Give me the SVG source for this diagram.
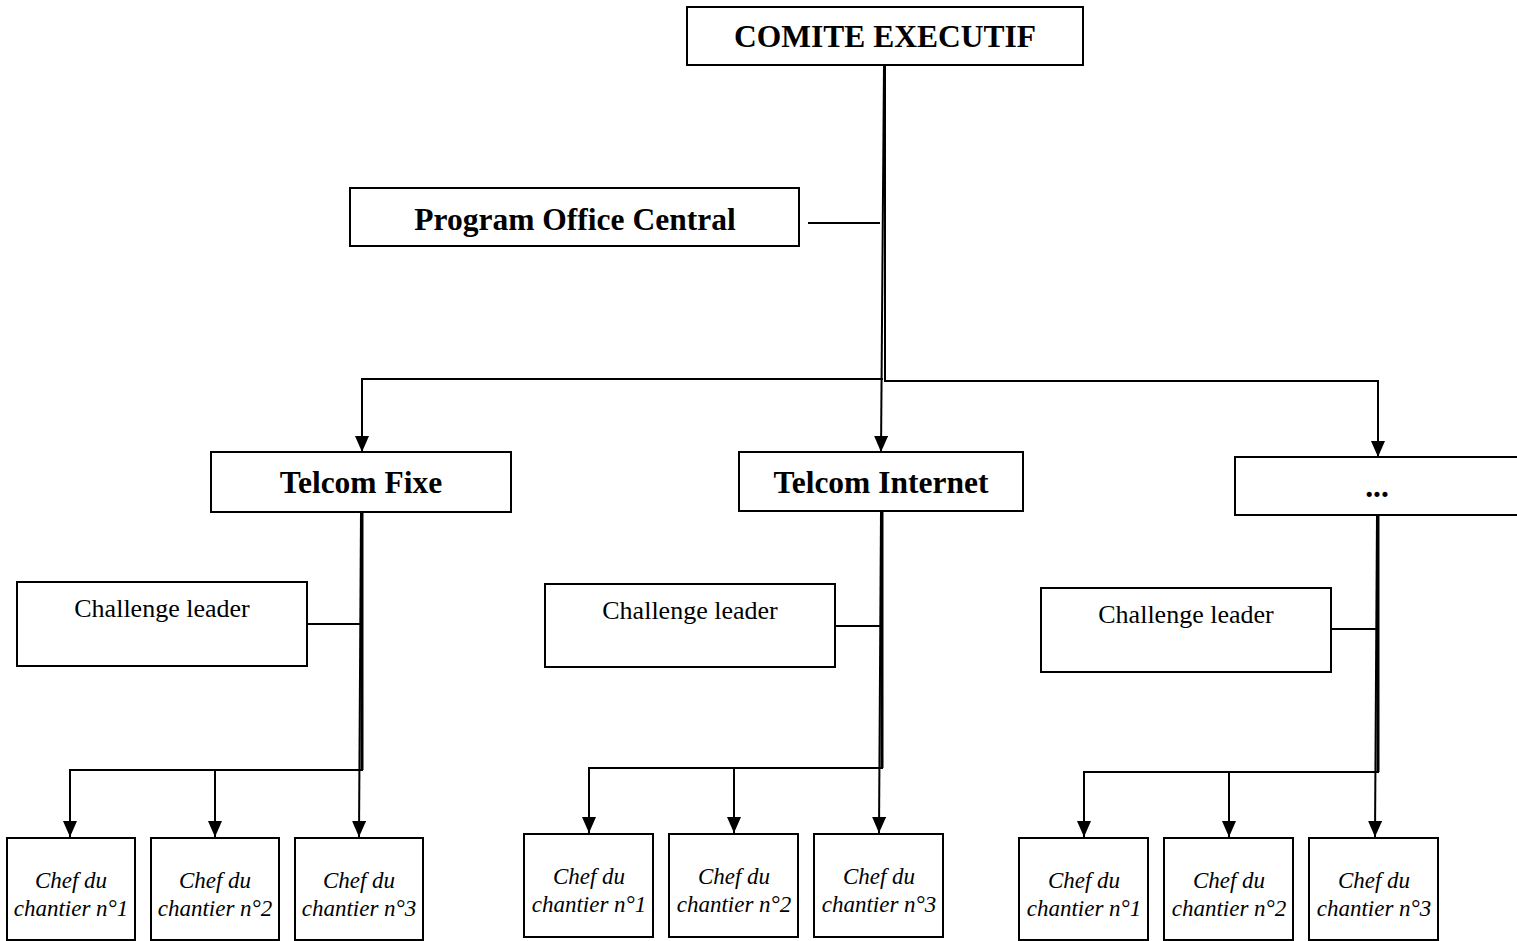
<svg xmlns="http://www.w3.org/2000/svg" width="1517" height="941" viewBox="0 0 1517 941">
<defs>
<style>
.box{fill:#fff;stroke:#000;stroke-width:2}
.ln{fill:none;stroke:#000;stroke-width:2}
.thk{fill:none;stroke:#000;stroke-width:3}
.hd{font-family:"Liberation Serif","Times New Roman",serif;font-weight:bold;font-size:31.5px;text-anchor:middle;fill:#000}
.cl{font-family:"Liberation Serif","Times New Roman",serif;font-size:26px;text-anchor:middle;fill:#000}
.ch{font-family:"Liberation Serif","Times New Roman",serif;font-style:italic;font-size:23px;text-anchor:middle;fill:#000}
</style>
<marker id="arr" viewBox="0 0 16 14" refX="16" refY="7" markerWidth="16" markerHeight="14" markerUnits="userSpaceOnUse" orient="auto">
<path d="M0,0 L16,7 L0,14 Z" fill="#000"/>
</marker>
</defs>
<rect width="1517" height="941" fill="#fff"/>

<g id="connectors">
<!-- top level -->
<path class="ln" d="M885,65 L885,381 L1378,381 L1378,457" marker-end="url(#arr)"/>
<path class="ln" d="M884,65 L881,452" marker-end="url(#arr)"/>
<path class="ln" d="M883,379 L362,379 L362,452" marker-end="url(#arr)"/>
<path class="ln" d="M808,223 L880,223"/>
<!-- group 1 -->
<path class="thk" d="M362,512 L362,770"/>
<path class="ln" d="M363,770 L70,770 L70,837" marker-end="url(#arr)"/>
<path class="ln" d="M215,770 L215,837" marker-end="url(#arr)"/>
<path class="ln" d="M361,512 L359,837" marker-end="url(#arr)"/>
<path class="ln" d="M307,624 L361,624"/>
<!-- group 2 -->
<path class="thk" d="M882,511 L882,768"/>
<path class="ln" d="M883,768 L589,768 L589,833" marker-end="url(#arr)"/>
<path class="ln" d="M734,768 L734,833" marker-end="url(#arr)"/>
<path class="ln" d="M881,511 L879,833" marker-end="url(#arr)"/>
<path class="ln" d="M835,626 L881,626"/>
<!-- group 3 -->
<path class="thk" d="M1378,515 L1378,772"/>
<path class="ln" d="M1379,772 L1084,772 L1084,837" marker-end="url(#arr)"/>
<path class="ln" d="M1229,772 L1229,837" marker-end="url(#arr)"/>
<path class="ln" d="M1377,515 L1375,837" marker-end="url(#arr)"/>
<path class="ln" d="M1331,629 L1377,629"/>
</g>

<g id="comite"><rect class="box" x="687" y="7" width="396" height="58"/><text class="hd" x="885" y="47">COMITE EXECUTIF</text></g>
<g id="program-office"><rect class="box" x="350" y="188" width="449" height="58"/><text class="hd" x="575" y="230">Program Office Central</text></g>

<g id="telcom-fixe"><rect class="box" x="211" y="452" width="300" height="60"/><text class="hd" x="361" y="493">Telcom Fixe</text></g>
<g id="telcom-internet"><rect class="box" x="739" y="452" width="284" height="59"/><text class="hd" x="881" y="493">Telcom Internet</text></g>
<g id="telcom-other"><rect class="box" x="1235" y="457" width="290" height="58"/><text class="hd" x="1377" y="497">...</text></g>

<g id="challenge-1"><rect class="box" x="17" y="582" width="290" height="84"/><text class="cl" x="162" y="617">Challenge leader</text></g>
<g id="challenge-2"><rect class="box" x="545" y="584" width="290" height="83"/><text class="cl" x="690" y="619">Challenge leader</text></g>
<g id="challenge-3"><rect class="box" x="1041" y="588" width="290" height="84"/><text class="cl" x="1186" y="623">Challenge leader</text></g>

<g id="chef-1-1"><rect class="box" x="7" y="838" width="128" height="102"/><text class="ch" x="71" y="888">Chef du</text><text class="ch" x="71" y="916">chantier n°1</text></g>
<g id="chef-1-2"><rect class="box" x="151" y="838" width="128" height="102"/><text class="ch" x="215" y="888">Chef du</text><text class="ch" x="215" y="916">chantier n°2</text></g>
<g id="chef-1-3"><rect class="box" x="295" y="838" width="128" height="102"/><text class="ch" x="359" y="888">Chef du</text><text class="ch" x="359" y="916">chantier n°3</text></g>

<g id="chef-2-1"><rect class="box" x="524" y="834" width="129" height="103"/><text class="ch" x="589" y="884">Chef du</text><text class="ch" x="589" y="912">chantier n°1</text></g>
<g id="chef-2-2"><rect class="box" x="669" y="834" width="129" height="103"/><text class="ch" x="734" y="884">Chef du</text><text class="ch" x="734" y="912">chantier n°2</text></g>
<g id="chef-2-3"><rect class="box" x="814" y="834" width="129" height="103"/><text class="ch" x="879" y="884">Chef du</text><text class="ch" x="879" y="912">chantier n°3</text></g>

<g id="chef-3-1"><rect class="box" x="1019" y="838" width="129" height="102"/><text class="ch" x="1084" y="888">Chef du</text><text class="ch" x="1084" y="916">chantier n°1</text></g>
<g id="chef-3-2"><rect class="box" x="1164" y="838" width="129" height="102"/><text class="ch" x="1229" y="888">Chef du</text><text class="ch" x="1229" y="916">chantier n°2</text></g>
<g id="chef-3-3"><rect class="box" x="1309" y="838" width="129" height="102"/><text class="ch" x="1374" y="888">Chef du</text><text class="ch" x="1374" y="916">chantier n°3</text></g>
</svg>
